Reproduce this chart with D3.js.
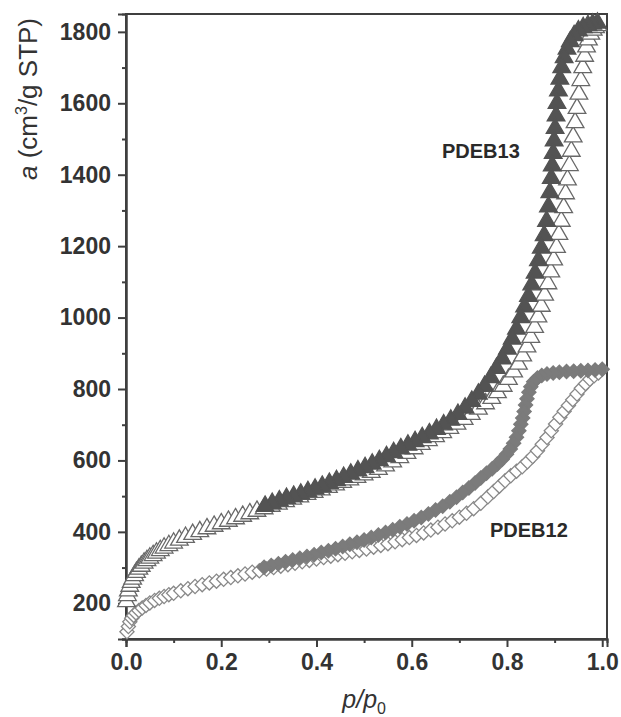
<!DOCTYPE html>
<head>
    <script src="https://d3js.org/d3.v7.min.js"></script>
</head>
<style>
body { margin: 0; background: #fff; }
svg { font-family: "Liberation Sans", Arial, Helvetica, sans-serif; }
</style>
<body>
<svg></svg>
<script>
    // PDEB13 adsorption (open triangles)
    var pdeb13AdsP = [0.001,0.003,0.005,0.008,0.011,0.014,0.018,0.022,0.027,0.032,0.038,0.044,0.050,0.057,0.064,0.072,0.080,0.090,0.100,0.112,0.125,0.140,0.155,0.170,0.185,0.200,0.215,0.230,0.245,0.260,0.275,
        0.290,0.305,0.320,0.335,0.350,0.365,0.380,0.395,0.410,0.425,0.440,0.455,0.470,0.485,0.500,0.515,0.530,0.545,0.560,0.575,0.590,0.605,0.620,0.635,0.650,0.665,0.680,0.695,0.710,0.725,0.740,0.755,
        0.768,0.780,0.792,0.803,0.814,0.824,0.833,0.842,0.850,0.858,0.865,0.872,0.879,0.886,0.892,0.898,0.904,0.909,0.914,0.919,0.923,0.927,0.931,0.935,0.939,0.943,0.947,0.951,0.955,0.959,0.963,0.967,0.971,0.976,0.981,0.986,0.991];
    var pdeb13AdsA = [205,222,235,248,259,268,278,287,296,304,313,320,327,334,341,348,355,362,369,377,385,393,401,409,416,423,430,437,444,451,458,
        465,472,478,485,492,498,505,511,518,525,532,539,546,553,560,567,575,585,596,608,620,633,645,656,667,678,690,702,715,729,744,759,
        774,790,808,827,848,870,893,918,945,973,1002,1032,1063,1095,1128,1162,1197,1233,1270,1308,1347,1386,1426,1466,1506,1546,1586,1626,1664,1700,1732,1758,1778,1794,1805,1812,1818];

    // PDEB13 desorption (filled triangles)
    var pdeb13DesP = [0.990,0.980,0.970,0.960,0.950,0.941,0.933,0.926,0.920,0.915,0.911,0.908,0.905,0.903,0.901,0.899,0.897,0.895,0.893,0.890,0.887,0.883,0.878,0.872,0.866,0.859,0.852,0.845,0.837,0.829,0.820,0.811,0.801,0.790,0.778,0.766,0.753,0.740,0.726,0.712,0.697,
        0.682,0.667,0.652,0.637,0.622,0.607,0.592,0.577,0.562,0.547,0.532,0.517,0.502,0.487,0.472,0.457,0.442,0.427,0.412,0.397,0.382,0.367,0.352,0.337,0.322,0.307,0.292];
    var pdeb13DesA = [1825,1822,1818,1812,1803,1790,1773,1752,1728,1700,1668,1635,1600,1565,1530,1495,1460,1425,1390,1350,1310,1270,1230,1195,1160,1125,1092,1060,1030,1000,968,940,912,885,858,832,808,786,766,747,729,
        713,700,687,675,664,653,643,633,622,611,600,590,580,571,562,553,544,536,528,520,513,506,500,494,487,480,472];

    // PDEB12 adsorption (open diamonds)
    var pdeb12AdsP = [0.002,0.005,0.008,0.012,0.016,0.021,0.027,0.034,0.042,0.050,0.060,0.070,0.080,0.090,0.100,0.115,0.130,0.145,0.160,0.175,0.190,0.205,0.220,0.235,0.250,0.265,0.280,0.295,
        0.310,0.325,0.340,0.355,0.370,0.385,0.400,0.415,0.430,0.445,0.460,0.475,0.490,0.505,0.520,0.535,0.550,0.565,0.580,0.595,0.610,0.625,0.640,0.655,0.670,0.685,0.700,0.715,0.730,0.745,
        0.760,0.772,0.784,0.796,0.808,0.820,0.832,0.843,0.854,0.864,0.874,0.884,0.893,0.902,0.911,0.920,0.929,0.938,0.947,0.956,0.965,0.974,0.983,0.992];
    var pdeb12AdsA = [120,135,148,158,166,173,180,187,194,201,208,214,219,224,228,235,241,247,252,257,262,267,272,277,282,287,291,296,
        300,304,308,312,316,320,324,328,332,336,340,344,348,352,357,362,367,372,378,384,390,397,405,413,422,431,441,452,465,480,
        498,513,528,543,557,570,582,596,611,627,645,664,683,702,721,738,754,770,786,802,815,827,837,845];

    // PDEB12 desorption (filled diamonds)
    var pdeb12DesP = [1.000,0.985,0.970,0.955,0.940,0.925,0.910,0.897,0.884,0.873,0.864,0.856,0.850,0.846,0.842,0.839,0.836,0.833,0.829,0.825,0.820,0.814,0.807,0.799,0.790,0.780,0.769,0.757,0.745,0.733,0.720,0.707,0.694,
        0.680,0.665,0.650,0.635,0.620,0.605,0.590,0.575,0.560,0.545,0.530,0.515,0.500,0.485,0.470,0.455,0.440,0.425,0.410,0.395,0.380,0.365,0.350,0.335,0.320,0.305,0.290];
    var pdeb12DesA = [855,853,852,851,850,849,847,845,842,838,831,820,806,791,773,755,737,719,701,683,665,648,632,617,603,590,577,564,551,537,523,510,497,
        484,472,461,450,440,431,422,414,406,398,391,384,377,371,365,359,353,347,342,336,331,326,321,316,311,306,301];

    var xTicks = [0, 0.2, 0.4, 0.6, 0.8, 1.0];
    var xMinor = [0.1, 0.3, 0.5, 0.7, 0.9];
    var yTicks = [200, 400, 600, 800, 1000, 1200, 1400, 1600, 1800];
    var yMinor = [100, 300, 500, 700, 900, 1100, 1300, 1500, 1700];

    var width = 621, height = 717;
    var mLeft = 126, mRight = 607, mTop = 14, mBottom = 639;

    var svg = d3.select('svg').attr('width', width).attr('height', height);

    var x = d3.scaleLinear().domain([0, 1.01]).range([mLeft, mRight]);
    var y = d3.scaleLinear().domain([100, 1850]).range([mBottom, mTop]);

    var axisColor = '#3f3f3f';

    // frame
    svg.append('rect')
        .attr('x', mLeft).attr('y', mTop)
        .attr('width', mRight - mLeft).attr('height', mBottom - mTop)
        .attr('fill', 'none').attr('stroke', axisColor).attr('stroke-width', 2);

    // axes
    var xAxis = svg.append('g').attr('transform', 'translate(0,' + mBottom + ')')
        .call(d3.axisBottom(x).tickValues(xTicks).tickSize(8).tickFormat(d3.format('.1f')));
    svg.append('g').attr('transform', 'translate(0,' + mBottom + ')')
        .call(d3.axisBottom(x).tickValues(xMinor).tickSize(4).tickFormat(''));
    var yAxis = svg.append('g').attr('transform', 'translate(' + mLeft + ',0)')
        .call(d3.axisLeft(y).tickValues(yTicks).tickSize(8).tickFormat(d3.format('d')));
    svg.append('g').attr('transform', 'translate(' + mLeft + ',0)')
        .call(d3.axisLeft(y).tickValues(yMinor).tickSize(4).tickFormat(''));

    svg.selectAll('.domain').attr('stroke', axisColor).attr('stroke-width', 2);
    svg.selectAll('.tick line').attr('stroke', axisColor).attr('stroke-width', 2);
    svg.selectAll('.tick text')
        .attr('fill', '#333').style('font-size', '23px').style('font-weight', 'bold');
    xAxis.selectAll('.tick text').attr('dy', '0.95em').attr('y', 9);
    yAxis.selectAll('.tick text').attr('x', -15);

    // symbols
    var tri = d3.symbol().type(d3.symbolTriangle).size(135);
    var dia = d3.symbol().type(d3.symbolSquare).size(100);

    function pts(ps, as) {
        return ps.map(function (p, i) { return [p, as[i]]; });
    }

    function draw(data, path, rot, fill, stroke) {
        svg.append('g').selectAll('path')
            .data(data)
            .enter().append('path')
            .attr('d', path)
            .attr('transform', function (d) {
                return 'translate(' + x(d[0]) + ',' + y(d[1]) + ')' + (rot ? 'rotate(45)' : '');
            })
            .attr('fill', fill)
            .attr('stroke', stroke)
            .attr('stroke-width', 1.3);
    }

    draw(pts(pdeb12AdsP, pdeb12AdsA), dia, true, '#fff', '#888');
    draw(pts(pdeb12DesP, pdeb12DesA), dia, true, '#7b7b7b', '#7b7b7b');
    draw(pts(pdeb13AdsP, pdeb13AdsA), tri, false, '#fff', '#686868');
    draw(pts(pdeb13DesP, pdeb13DesA), tri, false, '#535353', '#535353');

    // labels
    svg.append('text').attr('x', 442).attr('y', 158)
        .attr('fill', '#2a2a2a').style('font-size', '20px').style('font-weight', 'bold')
        .text('PDEB13');
    svg.append('text').attr('x', 490).attr('y', 537)
        .attr('fill', '#2a2a2a').style('font-size', '20px').style('font-weight', 'bold')
        .text('PDEB12');

    // axis titles
    var xt = svg.append('text').attr('x', (mLeft + x(1)) / 2).attr('y', 708)
        .attr('text-anchor', 'middle').attr('fill', '#333').style('font-size', '25px');
    xt.append('tspan').style('font-style', 'italic').text('p/p');
    xt.append('tspan').attr('dy', 6).style('font-size', '16px').text('0');

    var yt = svg.append('text')
        .attr('transform', 'translate(37,99)rotate(-90)')
        .attr('text-anchor', 'middle').attr('fill', '#333').style('font-size', '26px');
    yt.append('tspan').style('font-style', 'italic').text('a');
    yt.append('tspan').text(' (cm');
    yt.append('tspan').attr('dy', -10).style('font-size', '16px').text('3');
    yt.append('tspan').attr('dy', 10).text('/g STP)');
</script>
</body>
